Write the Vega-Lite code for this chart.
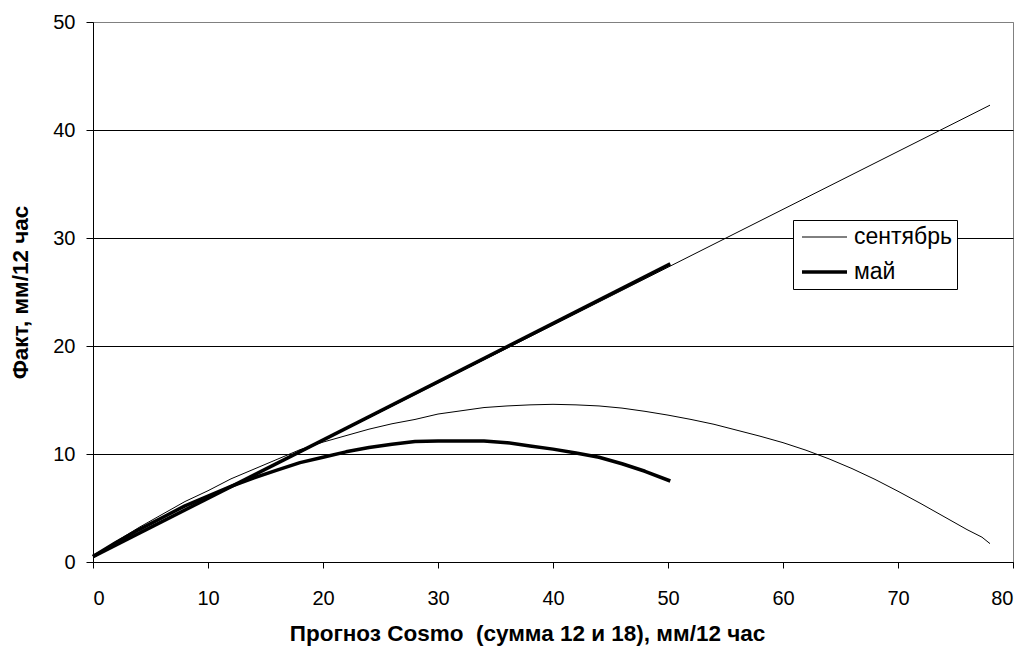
{
  "$schema": "https://vega.github.io/schema/vega-lite/v6.json",
  "width": 920,
  "height": 540,
  "autosize": {"type": "none"},
  "padding": {"left": 93, "top": 22, "right": 18, "bottom": 84},
  "background": "white",
  "config": {
    "font": "Liberation Sans",
    "view": {"stroke": "#808080", "strokeWidth": 1},
    "axis": {
      "labelFont": "Liberation Sans",
      "labelFontSize": 20,
      "labelColor": "black",
      "titleFont": "Liberation Sans",
      "titleFontSize": 22.5,
      "titleFontWeight": "bold",
      "titleColor": "black",
      "domainColor": "black",
      "tickColor": "black",
      "domainWidth": 1,
      "tickWidth": 1
    },
    "legend": {
      "labelFont": "Liberation Sans",
      "labelFontSize": 23,
      "labelColor": "black"
    }
  },
  "data": {
    "values": [
      {"s": "сентябрь", "p": "линия", "x": 0, "y": 0.5},
      {"s": "сентябрь", "p": "линия", "x": 78, "y": 42.3},
      {"s": "май", "p": "линия", "x": 0, "y": 0.5},
      {"s": "май", "p": "линия", "x": 50.2, "y": 27.6},
      {"s": "сентябрь", "p": "кривая", "x": 0, "y": 0.5},
      {"s": "сентябрь", "p": "кривая", "x": 2, "y": 1.9},
      {"s": "сентябрь", "p": "кривая", "x": 4, "y": 3.2},
      {"s": "сентябрь", "p": "кривая", "x": 6, "y": 4.4},
      {"s": "сентябрь", "p": "кривая", "x": 8, "y": 5.6},
      {"s": "сентябрь", "p": "кривая", "x": 10, "y": 6.6},
      {"s": "сентябрь", "p": "кривая", "x": 12, "y": 7.7},
      {"s": "сентябрь", "p": "кривая", "x": 14, "y": 8.6},
      {"s": "сентябрь", "p": "кривая", "x": 16, "y": 9.5},
      {"s": "сентябрь", "p": "кривая", "x": 18, "y": 10.4},
      {"s": "сентябрь", "p": "кривая", "x": 20, "y": 11.1},
      {"s": "сентябрь", "p": "кривая", "x": 22, "y": 11.7},
      {"s": "сентябрь", "p": "кривая", "x": 24, "y": 12.3},
      {"s": "сентябрь", "p": "кривая", "x": 26, "y": 12.8},
      {"s": "сентябрь", "p": "кривая", "x": 28, "y": 13.2},
      {"s": "сентябрь", "p": "кривая", "x": 30, "y": 13.7},
      {"s": "сентябрь", "p": "кривая", "x": 32, "y": 14.0},
      {"s": "сентябрь", "p": "кривая", "x": 34, "y": 14.3},
      {"s": "сентябрь", "p": "кривая", "x": 36, "y": 14.45},
      {"s": "сентябрь", "p": "кривая", "x": 38, "y": 14.55},
      {"s": "сентябрь", "p": "кривая", "x": 40, "y": 14.6},
      {"s": "сентябрь", "p": "кривая", "x": 42, "y": 14.55},
      {"s": "сентябрь", "p": "кривая", "x": 44, "y": 14.45},
      {"s": "сентябрь", "p": "кривая", "x": 46, "y": 14.25},
      {"s": "сентябрь", "p": "кривая", "x": 48, "y": 13.95},
      {"s": "сентябрь", "p": "кривая", "x": 50, "y": 13.6},
      {"s": "сентябрь", "p": "кривая", "x": 52, "y": 13.2},
      {"s": "сентябрь", "p": "кривая", "x": 54, "y": 12.75},
      {"s": "сентябрь", "p": "кривая", "x": 56, "y": 12.2},
      {"s": "сентябрь", "p": "кривая", "x": 58, "y": 11.65},
      {"s": "сентябрь", "p": "кривая", "x": 60, "y": 11.05},
      {"s": "сентябрь", "p": "кривая", "x": 62, "y": 10.35},
      {"s": "сентябрь", "p": "кривая", "x": 64, "y": 9.55},
      {"s": "сентябрь", "p": "кривая", "x": 66, "y": 8.65},
      {"s": "сентябрь", "p": "кривая", "x": 68, "y": 7.65},
      {"s": "сентябрь", "p": "кривая", "x": 70, "y": 6.55},
      {"s": "сентябрь", "p": "кривая", "x": 72, "y": 5.4},
      {"s": "сентябрь", "p": "кривая", "x": 74, "y": 4.2},
      {"s": "сентябрь", "p": "кривая", "x": 76, "y": 3.0},
      {"s": "сентябрь", "p": "кривая", "x": 77.3, "y": 2.3},
      {"s": "сентябрь", "p": "кривая", "x": 78, "y": 1.7},
      {"s": "май", "p": "кривая", "x": 0, "y": 0.5},
      {"s": "май", "p": "кривая", "x": 2, "y": 1.8},
      {"s": "май", "p": "кривая", "x": 4, "y": 3.0},
      {"s": "май", "p": "кривая", "x": 6, "y": 4.1},
      {"s": "май", "p": "кривая", "x": 8, "y": 5.2},
      {"s": "май", "p": "кривая", "x": 10, "y": 6.1},
      {"s": "май", "p": "кривая", "x": 12, "y": 7.0},
      {"s": "май", "p": "кривая", "x": 14, "y": 7.8},
      {"s": "май", "p": "кривая", "x": 16, "y": 8.5},
      {"s": "май", "p": "кривая", "x": 18, "y": 9.2},
      {"s": "май", "p": "кривая", "x": 20, "y": 9.7},
      {"s": "май", "p": "кривая", "x": 22, "y": 10.2},
      {"s": "май", "p": "кривая", "x": 24, "y": 10.6},
      {"s": "май", "p": "кривая", "x": 26, "y": 10.9},
      {"s": "май", "p": "кривая", "x": 28, "y": 11.15},
      {"s": "май", "p": "кривая", "x": 30, "y": 11.2},
      {"s": "май", "p": "кривая", "x": 32, "y": 11.2},
      {"s": "май", "p": "кривая", "x": 34, "y": 11.2},
      {"s": "май", "p": "кривая", "x": 36, "y": 11.05},
      {"s": "май", "p": "кривая", "x": 38, "y": 10.75},
      {"s": "май", "p": "кривая", "x": 40, "y": 10.45},
      {"s": "май", "p": "кривая", "x": 42, "y": 10.1},
      {"s": "май", "p": "кривая", "x": 44, "y": 9.7},
      {"s": "май", "p": "кривая", "x": 46, "y": 9.1},
      {"s": "май", "p": "кривая", "x": 48, "y": 8.4},
      {"s": "май", "p": "кривая", "x": 50.2, "y": 7.5}
    ]
  },
  "mark": {"type": "line", "color": "black", "strokeJoin": "round", "strokeCap": "butt"},
  "encoding": {
    "x": {
      "field": "x",
      "type": "quantitative",
      "scale": {"domain": [0, 80], "nice": false},
      "axis": {
        "values": [0, 10, 20, 30, 40, 50, 60, 70, 80],
        "grid": false,
        "tickSize": 6,
        "labelPadding": 20,
        "title": "Прогноз Cosmo \u00a0(сумма 12 и 18), мм/12 час",
        "titleX": 434,
        "titleY": 71,
        "titleAlign": "center",
        "titleBaseline": "middle"
      }
    },
    "y": {
      "field": "y",
      "type": "quantitative",
      "scale": {"domain": [0, 50], "nice": false},
      "axis": {
        "values": [0, 10, 20, 30, 40, 50],
        "grid": true,
        "gridColor": {"condition": {"test": "datum.value == 50", "value": "#808080"}, "value": "black"},
        "gridWidth": 1,
        "tickSize": 7,
        "labelPadding": 11,
        "title": "Факт, мм/12 час",
        "titleX": -73,
        "titleY": 270,
        "titleAngle": 270,
        "titleAlign": "center",
        "titleBaseline": "middle"
      }
    },
    "strokeWidth": {
      "field": "s",
      "type": "nominal",
      "scale": {"domain": ["сентябрь", "май"], "range": [1, 3.5]},
      "legend": {
        "orient": "none",
        "legendX": 700,
        "legendY": 198,
        "title": null,
        "strokeColor": "black",
        "fillColor": "white",
        "padding": 5,
        "clipHeight": 24,
        "symbolType": "stroke",
        "symbolSize": 2025,
        "symbolOffset": 2,
        "symbolStrokeColor": "black",
        "labelOffset": 5,
        "rowPadding": 11
      }
    },
    "detail": {"field": "p", "type": "nominal"}
  }
}
